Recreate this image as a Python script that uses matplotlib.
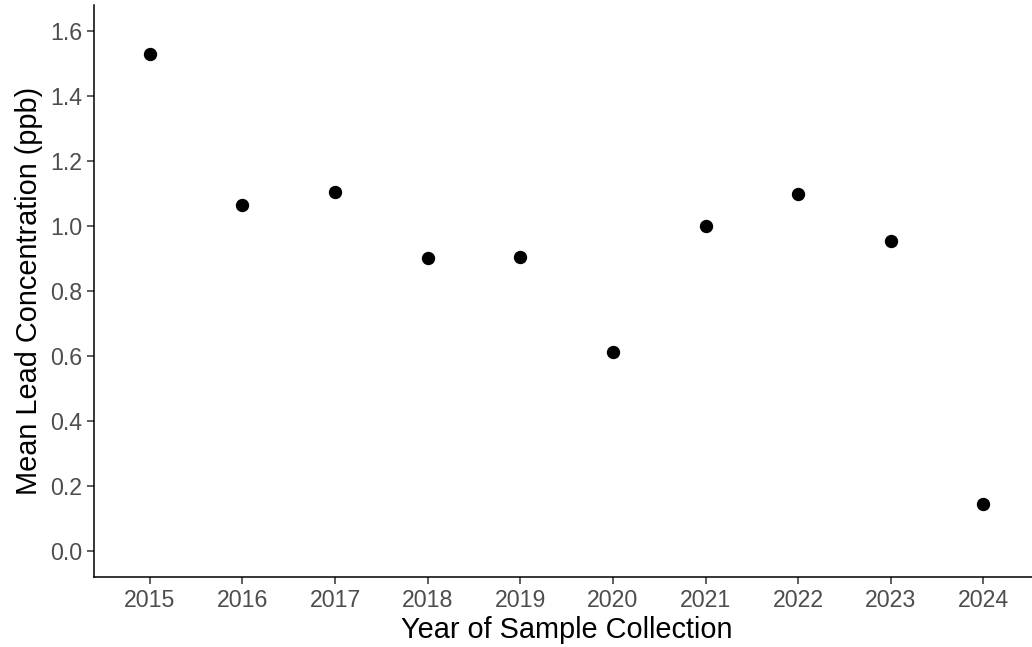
import matplotlib.pyplot as plt

years = [2015, 2016, 2017, 2018, 2019, 2020, 2021, 2022, 2023, 2024]
mean_lead = [1.530, 1.065, 1.104, 0.902, 0.904, 0.611, 1.000, 1.098, 0.954, 0.145]

plt.rcParams['font.family'] = ['Liberation Sans', 'DejaVu Sans']

fig = plt.figure(figsize=(10.32, 6.47), dpi=100)
# axis runs a bit past the right edge, as in the reference
ax = fig.add_axes([94.3 / 1032, 1 - 576.7 / 647, (1039 - 94.3) / 1032, (576.7 - 5) / 647])

pos = list(range(len(years)))
ax.plot(pos, mean_lead, 'o', color='black', markersize=8.6, clip_on=False)

ax.set_xlim(-0.6, len(years) - 1 + 0.6)
ax.set_ylim(-0.08, 1.68)
ax.set_xticks(pos)
ax.set_xticklabels([str(y) for y in years])
ax.set_yticks([0.0, 0.2, 0.4, 0.6, 0.8, 1.0, 1.2, 1.4, 1.6])
ax.set_yticklabels(['0.0', '0.2', '0.4', '0.6', '0.8', '1.0', '1.2', '1.4', '1.6'])

for side in ['top', 'right']:
    ax.spines[side].set_visible(False)
for side in ['left', 'bottom']:
    ax.spines[side].set_linewidth(1.1)
    ax.spines[side].set_color('black')

ax.tick_params(axis='both', length=5, width=1.1, color='#333333',
               labelcolor='#4D4D4D', labelsize=16.7, pad=3.5)

ax.set_xlabel('Year of Sample Collection', fontsize=20.8, color='black', labelpad=3)
ax.set_ylabel('Mean Lead Concentration (ppb)', fontsize=20.8, color='black', labelpad=5)

fig.savefig('out.png', dpi=100)
